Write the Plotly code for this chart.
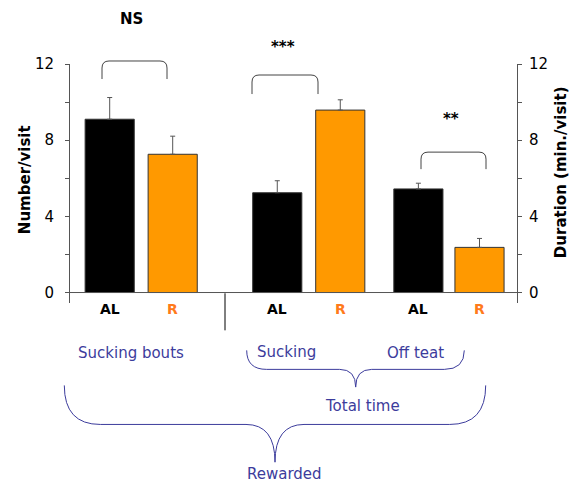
import plotly.graph_objects as go

# ---- data ----
group_names = ["Sucking bouts", "Sucking", "Off teat"]
al_x = [0.63, 3.29, 5.53]
r_x = [1.63, 4.29, 6.50]
al_values = [9.1, 5.24, 5.44]
al_errors = [1.14, 0.63, 0.30]
r_values = [7.26, 9.58, 2.37]
r_errors = [0.95, 0.54, 0.47]
significance = ["NS", "***", "**"]
y_ticks = [0, 2, 4, 6, 8, 10, 12]
y_tick_text = ["0", "", "4", "", "8", "", "12"]

# ---- geometry (pixels) ----
W, H = 573, 483
PL, PR, PT, PB = 70, 517, 64, 302.7
PW, PH = PR - PL, PB - PT
XMAX = PW / 63.0


def px(x):
    return (x - PL) / PW


def py(y):
    return (PB - y) / PH


BLUE = "#3c3c9c"
ORANGE = "#FF9900"
RLAB = "#FF7A1A"
FONT = "DejaVu Sans"

fig = go.Figure()
fig.add_trace(go.Bar(
    x=al_x, y=al_values, width=0.78, marker=dict(color="#000000", line=dict(color="#333", width=1)),
    error_y=dict(type="data", array=al_errors, arrayminus=[0] * 3, symmetric=False,
                 color="#555", thickness=1, width=2.5),
    yaxis="y", showlegend=False))
fig.add_trace(go.Bar(
    x=r_x, y=r_values, width=0.78, marker=dict(color=ORANGE, line=dict(color="#333", width=1)),
    error_y=dict(type="data", array=r_errors, arrayminus=[0] * 3, symmetric=False,
                 color="#555", thickness=1, width=2.5),
    yaxis="y", showlegend=False))

shapes = []
annotations = []


def label(x, y, text, size, color, angle=0, xref="paper"):
    annotations.append(dict(x=x, y=y, xref=xref, yref="paper", text=text, textangle=angle,
                            showarrow=False, font=dict(family=FONT, size=size, color=color),
                            xanchor="center", yanchor="middle"))


# significance brackets (pixel geometry)
brackets = [(102, 167, 61, 79, 131, 19), (252, 318, 75, 94, 283, 47), (421, 486, 152, 169, 451, 119)]
for (x0, x1, yt, yl, tx, ty), s in zip(brackets, significance):
    r = 7
    path = (f"M {px(x0)},{py(yl)} L {px(x0)},{py(yt + r)} Q {px(x0)},{py(yt)} {px(x0 + r)},{py(yt)} "
            f"L {px(x1 - r)},{py(yt)} Q {px(x1)},{py(yt)} {px(x1)},{py(yt + r)} L {px(x1)},{py(yl)}")
    shapes.append(dict(type="path", xref="paper", yref="paper", path=path,
                       line=dict(color="#444", width=1)))
    label(px(tx), py(ty), f"<b>{s}</b>", 15, "#000")


def brace(x0, x1, yt, yh, xc, ytip, rx, rc):
    return (f"M {px(x0)},{py(yt)} Q {px(x0)},{py(yh)} {px(x0 + rx)},{py(yh)} "
            f"L {px(xc - rc)},{py(yh)} Q {px(xc)},{py(yh)} {px(xc)},{py(ytip)} "
            f"Q {px(xc)},{py(yh)} {px(xc + rc)},{py(yh)} "
            f"L {px(x1 - rx)},{py(yh)} Q {px(x1)},{py(yh)} {px(x1)},{py(yt)}")


shapes.append(dict(type="path", xref="paper", yref="paper",
                   path=brace(246.7, 464.3, 350, 369, 355.7, 386.7, 20, 16),
                   line=dict(color=BLUE, width=1)))
shapes.append(dict(type="path", xref="paper", yref="paper",
                   path=brace(64.3, 485.7, 385, 424, 275, 461.7, 36, 29),
                   line=dict(color=BLUE, width=1)))

# separator
shapes.append(dict(type="line", xref="paper", yref="paper", x0=px(225), x1=px(225),
                   y0=py(293), y1=py(330), line=dict(color="#000", width=1)))

# x tick labels
for xs in al_x:
    label(xs, py(309), "<b>AL</b>", 14, "#000", xref="x")
for xs in r_x:
    label(xs, py(309), "<b>R</b>", 14, RLAB, xref="x")

# group labels
for (tx, ty), t in zip([(131, 353), (286, 352), (415, 353)], group_names):
    label(px(tx), py(ty), t, 15, BLUE)
label(px(362), py(406), "Total time", 15, BLUE)
label(px(284), py(473), "Rewarded", 15, BLUE)

# axis titles
label(px(25), py(180), "<b>Number/visit</b>", 15, "#000", angle=-90)
label(px(561), py(172), "<b>Duration (min./visit)</b>", 15, "#000", angle=-90)

axis_common = dict(range=[-0.55, 12], tickvals=y_ticks, ticktext=y_tick_text, showgrid=False,
                   zeroline=False, showline=True, linecolor="#555", linewidth=1,
                   ticks="outside", ticklen=4, tickcolor="#555",
                   tickfont=dict(family=FONT, size=15, color="#000"))

fig.update_layout(
    width=W, height=H, margin=dict(l=PL, r=W - PR, t=PT, b=H - PB),
    paper_bgcolor="white", plot_bgcolor="white", barmode="overlay",
    xaxis=dict(range=[0, XMAX], showticklabels=False, showgrid=False, zeroline=False,
               showline=False, ticks=""),
    yaxis=dict(**axis_common, side="left", ticklabelstandoff=8),
    yaxis2=dict(**axis_common, side="right", overlaying="y", ticklabelstandoff=4),
    shapes=shapes + [dict(type="line", xref="paper", yref="y", x0=0, x1=1, y0=0, y1=0,
                          line=dict(color="#555", width=1))],
    annotations=annotations,
)
# dummy trace to show right axis
fig.add_trace(go.Scatter(x=[None], y=[None], yaxis="y2", showlegend=False, hoverinfo="skip"))

fig.write_html("out.html", config={"displayModeBar": False},
               post_script="document.body.style.margin='0';document.body.style.overflow='hidden';")
